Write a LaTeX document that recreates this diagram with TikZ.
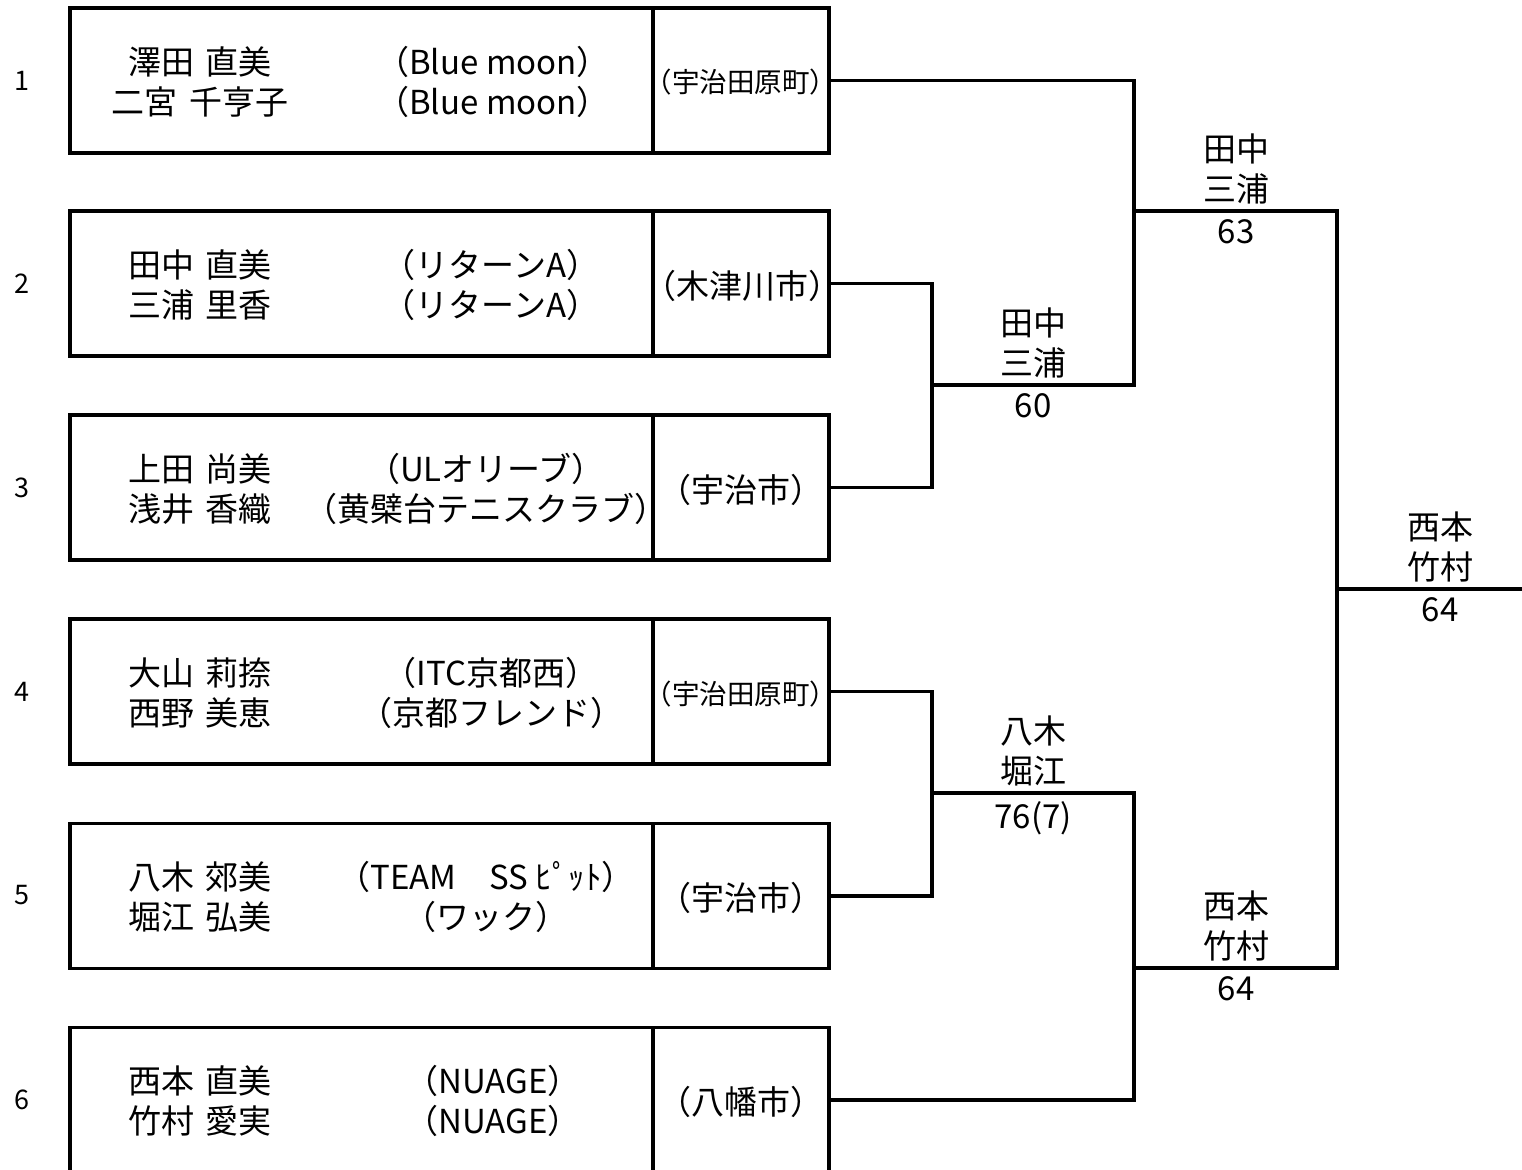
\documentclass[tikz,border=0pt]{standalone}
\usepackage{fontspec}
\setmainfont{Noto Sans CJK JP}
\newcommand\gp{\hspace{0.36em}}
\begin{document}
\begin{tikzpicture}[x=1pt,y=-1pt,
  boxline/.style={draw=black,line width=3.5pt,rectangle,inner sep=0pt},
  pbox/.style={boxline,minimum width=583pt,minimum height=145pt},
  cbox/.style={boxline,minimum width=176pt,minimum height=145pt},
  ctext/.style={inner sep=0pt,font=\fontsize{33}{40}\selectfont},
  ctexts/.style={inner sep=0pt,font=\fontsize{27.5}{34}\selectfont},
  txt/.style={align=center,inner sep=0pt,font=\fontsize{33}{40}\selectfont},
  num/.style={inner sep=0pt,font=\fontsize{27}{30}\selectfont},
  wire/.style={line width=3.5pt,line cap=rect},
  lbl/.style={align=center,inner sep=0pt,font=\fontsize{33}{40}\selectfont},
]
\clip (0,0) rectangle (1522,1169);
\fill[white] (0,0) rectangle (1522,1169);

% row numbers
\node[num] (r1) at (22,80.5) {1};
\node[num] (r2) at (22,283.5) {2};
\node[num] (r3) at (22,488) {3};
\node[num] (r4) at (22,692) {4};
\node[num] (r5) at (22,895) {5};
\node[num] (r6) at (22,1100) {6};

% boxes
\node[pbox] (p1) at (361.5,80.5) {};
\node[cbox] (c1) at (741,80.5) {};
\node[pbox] (p2) at (361.5,283.5) {};
\node[cbox] (c2) at (741,283.5) {};
\node[pbox] (p3) at (361.5,487.5) {};
\node[cbox] (c3) at (741,487.5) {};
\node[pbox] (p4) at (361.5,691.5) {};
\node[cbox] (c4) at (741,691.5) {};
\node[pbox] (p5) at (361.5,896) {};
\node[cbox] (c5) at (741,896) {};
\node[pbox] (p6) at (361.5,1100) {};
\node[cbox] (c6) at (741,1100) {};

% city texts
\node[ctexts] (t1) at (741,82) {（宇治田原町）};
\node[ctext] (t2) at (742,286) {（木津川市）};
\node[ctext] (t3) at (741,490) {（宇治市）};
\node[ctexts] (t4) at (741,694) {（宇治田原町）};
\node[ctext] (t5) at (741,898) {（宇治市）};
\node[ctext] (t6) at (741,1102) {（八幡市）};

% names and clubs
\node[txt] (n1) at (200,82) {澤田\gp 直美\\二宮\gp 千亨子};
\node[txt] (k1) at (493,82) {（Blue moon）\\（Blue moon）};
\node[txt] (n2) at (200,285) {田中\gp 直美\\三浦\gp 里香};
\node[txt] (k2) at (491,285) {（リターンA）\\（リターンA）};
\node[txt] (n3) at (200,489) {上田\gp 尚美\\浅井\gp 香織};
\node[txt] (k3) at (486,489) {（ULオリーブ）\\（黄檗台テニスクラブ）};
\node[txt] (n4) at (200,693) {大山\gp 莉捺\\西野\gp 美恵};
\node[txt] (k4) at (491,693) {（ITC京都西）\\（京都フレンド）};
\node[txt] (n5) at (200,897) {八木\gp 郊美\\堀江\gp 弘美};
\node[txt] (k5) at (486,897) {（TEAM　SS ﾋﾟｯﾄ）\\（ワック）};
\node[txt] (n6) at (200,1101) {西本\gp 直美\\竹村\gp 愛実};
\node[txt] (k6) at (493,1101) {（NUAGE）\\（NUAGE）};

% junction coordinates
\coordinate (a1) at (932,385);
\coordinate (a2) at (1134,385);
\coordinate (b1) at (1134,211);
\coordinate (b2) at (1337,211);
\coordinate (a3) at (932,793);
\coordinate (a4) at (1134,793);
\coordinate (b3) at (1134,968);
\coordinate (b4) at (1337,968);
\coordinate (f1) at (1337,589);
\coordinate (f2) at (1530,589);

% connectors
\draw[wire] (c2.east) -| (a1) |- (c3.east);
\draw[wire] (a1) -- (a2);
\draw[wire] (c1.east) -| (a2);
\draw[wire] (b1) -- (b2);
\draw[wire] (c4.east) -| (a3) |- (c5.east);
\draw[wire] (a3) -- (a4) |- (c6.east);
\draw[wire] (b3) -- (b4);
\draw[wire] (b2) -- (b4);
\draw[wire] (f1) -- (f2);

% winner labels
\node[lbl,anchor=south] (w1) at (1033,378) {田中\\三浦};
\node[lbl,anchor=north] (s1) at (1033,393) {60};
\node[lbl,anchor=south] (w2) at (1236,204) {田中\\三浦};
\node[lbl,anchor=north] (s2) at (1236,219) {63};
\node[lbl,anchor=south] (w3) at (1033,786) {八木\\堀江};
\node[lbl,anchor=north] (s3) at (1033,801) {76(7)};
\node[lbl,anchor=south] (w4) at (1236,961) {西本\\竹村};
\node[lbl,anchor=north] (s4) at (1236,976) {64};
\node[lbl,anchor=south] (w5) at (1440,582) {西本\\竹村};
\node[lbl,anchor=north] (s5) at (1440,597) {64};
\end{tikzpicture}
\end{document}
